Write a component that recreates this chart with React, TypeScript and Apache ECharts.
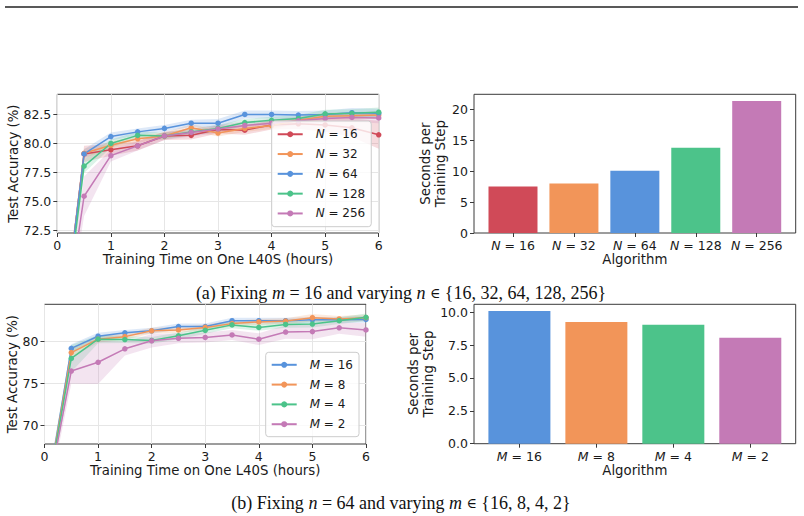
import React, { useEffect, useRef } from 'react';
import * as echarts from 'echarts';

// ---------- data ----------
const hours = [0, 0.5, 1, 1.5, 2, 2.5, 3, 3.5, 4, 4.5, 5, 5.5, 6];

// (a) fixing m = 16, varying N
const nNames = ['N = 16', 'N = 32', 'N = 64', 'N = 128', 'N = 256'];
const accN16 = [60, 79.1, 79.45, 79.8, 80.65, 80.7, 81.2, 81.15, 81.6, 81.7, 81.6, 81.35, 80.75];
const accN32 = [60, 79.15, 79.85, 80.4, 80.65, 81.35, 80.9, 81.3, 81.55, 82.0, 82.35, 82.4, 82.45];
const accN64 = [60, 79.1, 80.6, 81.0, 81.3, 81.75, 81.75, 82.5, 82.5, 82.45, 82.5, 82.65, 82.6];
const accN128 = [60, 78.05, 80.0, 80.7, 80.65, 81.0, 81.3, 81.8, 82.0, 82.15, 82.55, 82.6, 82.7];
const accN256 = [60, 75.45, 78.95, 79.8, 80.65, 80.95, 81.25, 81.55, 81.75, 81.95, 82.15, 82.25, 82.2];
const sdN16 = [1, 0.7, 0.5, 0.4, 0.35, 0.35, 0.35, 0.4, 0.4, 0.45, 0.6, 0.8, 1.2];
const sdN32 = [1, 0.4, 0.3, 0.3, 0.3, 0.3, 0.3, 0.3, 0.3, 0.3, 0.3, 0.3, 0.35];
const sdN64 = [1, 0.4, 0.35, 0.3, 0.3, 0.3, 0.35, 0.35, 0.35, 0.35, 0.35, 0.4, 0.4];
const sdN128 = [1, 0.6, 0.35, 0.3, 0.3, 0.3, 0.3, 0.3, 0.3, 0.3, 0.35, 0.35, 0.4];
const sdN256 = [1, 1.7, 0.5, 0.4, 0.35, 0.35, 0.35, 0.35, 0.35, 0.35, 0.35, 0.4, 0.45];
const secN = [7.53, 8.01, 10.1, 13.82, 21.4];

// (b) fixing n = 64, varying M
const mNames = ['M = 16', 'M = 8', 'M = 4', 'M = 2'];
const accM16 = [60, 79.15, 80.6, 81.0, 81.25, 81.75, 81.75, 82.45, 82.45, 82.45, 82.55, 82.55, 82.6];
const accM8 = [60, 78.65, 80.25, 80.55, 81.25, 81.35, 81.65, 82.1, 82.3, 82.4, 82.8, 82.65, 82.8];
const accM4 = [60, 77.95, 80.25, 80.2, 80.1, 80.65, 81.3, 81.95, 81.65, 82.0, 82.05, 82.45, 82.85];
const accM2 = [60, 76.45, 77.5, 79.1, 80.05, 80.35, 80.45, 80.75, 80.25, 81.1, 81.15, 81.6, 81.35];
const sdM16 = [1, 0.5, 0.4, 0.35, 0.35, 0.35, 0.35, 0.35, 0.35, 0.35, 0.35, 0.35, 0.4];
const sdM8 = [1, 0.6, 0.4, 0.35, 0.35, 0.35, 0.35, 0.35, 0.35, 0.35, 0.45, 0.35, 0.4];
const sdM4 = [1, 1.6, 0.5, 0.4, 0.4, 0.4, 0.4, 0.4, 0.4, 0.4, 0.4, 0.4, 0.45];
const sdM2 = [1, 1.5, 2.6, 0.8, 0.8, 0.6, 0.6, 0.6, 0.7, 0.8, 0.9, 0.7, 0.8];
const secM = [10.1, 9.26, 9.04, 8.05];

// tick values
const accTicksA = [72.5, 75, 77.5, 80, 82.5];
const accTicksB = [70, 75, 80];
const secTicksA = [0, 5, 10, 15, 20];
const secTicksB = [0, 2.5, 5, 7.5, 10];

const RED = '#D04A58';
const ORANGE = '#F29559';
const BLUE = '#5893DC';
const GREEN = '#4CC38A';
const PINK = '#C47AB6';

const FONT = 'DejaVu Sans';
const TXT = '#1a1a1a';
const FRAME = '#3a3a3a';
const GRIDC = '#e6e6e6';
const TICK_FS = 12.5;
const NAME_FS = 13.3;

function rgba(hex: string, a: number) {
  const n = parseInt(hex.slice(1), 16);
  return `rgba(${(n >> 16) & 255},${(n >> 8) & 255},${n & 255},${a})`;
}

const mathRich = (fs: number) => ({
  i: { fontFamily: FONT, fontStyle: 'italic', fontSize: fs, color: TXT },
  t: { fontFamily: FONT, fontSize: fs, color: TXT },
});
const mathFmt = (name: string) => `{i|${name[0]}}{t|${name.slice(1)}}`;

function band(grid: number, color: string, vals: number[], sd: number[]) {
  return {
    type: 'custom',
    xAxisIndex: grid,
    yAxisIndex: grid,
    clip: true,
    silent: true,
    z: 1,
    data: [0],
    renderItem: (_p: any, api: any) => {
      const up = hours.map((h, i) => api.coord([h, vals[i] + sd[i]]));
      const lo = hours.map((h, i) => api.coord([h, vals[i] - sd[i]])).reverse();
      return {
        type: 'polygon',
        shape: { points: up.concat(lo) },
        style: { fill: rgba(color, 0.2), stroke: 'none' },
      };
    },
  };
}

function line(grid: number, name: string, color: string, vals: number[]) {
  return {
    type: 'line',
    name,
    xAxisIndex: grid,
    yAxisIndex: grid,
    data: hours.map((h, i) => [h, vals[i]]),
    clip: true,
    z: 3,
    symbol: 'circle',
    symbolSize: 5.5,
    showSymbol: true,
    color,
    lineStyle: { color, width: 1.5 },
    itemStyle: { color },
  };
}

const nameStyle = { fontFamily: FONT, fontSize: NAME_FS, color: TXT };
const tickStyle = { show: true, length: 4, lineStyle: { color: FRAME } };

function lineXAxis(grid: number) {
  return {
    type: 'value',
    gridIndex: grid,
    min: 0,
    max: 6,
    interval: 1,
    name: 'Training Time on One L40S (hours)',
    nameLocation: 'middle',
    nameGap: 18,
    nameTextStyle: nameStyle,
    axisLine: { show: false, onZero: false },
    axisTick: tickStyle,
    axisLabel: { fontFamily: FONT, fontSize: TICK_FS, color: TXT, margin: 6 },
    splitLine: { show: true, lineStyle: { color: GRIDC, width: 1 } },
  };
}

function lineYAxis(grid: number, min: number, max: number, ticks: number[], dec: number, gap: number) {
  return {
    type: 'value',
    gridIndex: grid,
    min,
    max,
    name: 'Test Accuracy (%)',
    nameLocation: 'middle',
    nameRotate: 90,
    nameGap: gap,
    nameTextStyle: nameStyle,
    axisLine: { show: false, onZero: false },
    axisTick: { ...tickStyle, customValues: ticks },
    axisLabel: {
      fontFamily: FONT,
      fontSize: TICK_FS,
      color: TXT,
      margin: 6,
      customValues: ticks,
      formatter: (v: number) => v.toFixed(dec),
    },
    splitLine: { show: true, lineStyle: { color: GRIDC, width: 1 } },
  };
}

function barXAxis(grid: number, names: string[], pad: number) {
  const idx = names.map((_, i) => i);
  return {
    type: 'value',
    gridIndex: grid,
    min: -pad,
    max: names.length - 1 + pad,
    name: 'Algorithm',
    nameLocation: 'middle',
    nameGap: 18,
    nameTextStyle: nameStyle,
    axisLine: { show: false, onZero: false },
    axisTick: { ...tickStyle, customValues: idx },
    axisLabel: {
      margin: 6,
      customValues: idx,
      formatter: (v: number) => mathFmt(names[Math.round(v)] || ''),
      rich: mathRich(TICK_FS),
    },
    splitLine: { show: false },
  };
}

function barYAxis(grid: number, max: number, ticks: number[], dec: number, gap: number) {
  return {
    type: 'value',
    gridIndex: grid,
    min: 0,
    max,
    name: 'Seconds per\nTraining Step',
    nameLocation: 'middle',
    nameRotate: 90,
    nameGap: gap,
    nameTextStyle: { ...nameStyle, lineHeight: 15 },
    axisLine: { show: false, onZero: false },
    axisTick: { ...tickStyle, customValues: ticks },
    axisLabel: {
      fontFamily: FONT,
      fontSize: TICK_FS,
      color: TXT,
      margin: 6,
      customValues: ticks,
      formatter: (v: number) => v.toFixed(dec),
    },
    splitLine: { show: false },
  };
}

function bars(grid: number, vals: number[], colors: string[], width: number) {
  return {
    type: 'bar',
    xAxisIndex: grid,
    yAxisIndex: grid,
    barWidth: width,
    z: 2,
    data: vals.map((v, i) => ({ value: [i, v], itemStyle: { color: colors[i] } })),
  };
}

function legend(names: string[], left: number, top: number, pad: number) {
  return {
    data: names,
    orient: 'vertical',
    left,
    top,
    itemWidth: 25,
    itemHeight: 7.5,
    itemGap: 5.8,
    padding: [pad, 6, pad, 5],
    backgroundColor: 'rgba(255,255,255,0.8)',
    borderColor: '#cccccc',
    borderWidth: 1,
    borderRadius: 3,
    formatter: mathFmt,
    textStyle: { fontFamily: FONT, fontSize: 12, lineHeight: 14, color: TXT, padding: [0, 0, 0, 8], rich: mathRich(12) },
  };
}

const CAP_FS = 18;
const CAP_FONT = 'Liberation Serif';
const capRich = {
  r: { fontFamily: CAP_FONT, fontSize: CAP_FS, fill: '#111' },
  i: { fontFamily: CAP_FONT, fontSize: CAP_FS, fontStyle: 'italic', fill: '#111' },
  s: { fontFamily: 'DejaVu Serif', fontSize: 14, fill: '#111' },
};

function caption(text: string, y: number) {
  return {
    type: 'text',
    x: 401,
    y,
    style: {
      text,
      rich: capRich,
      fontFamily: CAP_FONT,
      fontSize: CAP_FS,
      fill: '#111',
      align: 'center',
      verticalAlign: 'middle',
    },
  };
}

export default function App() {
  const ref = useRef<HTMLDivElement>(null);
  useEffect(() => {
    if (!ref.current) return;
    const chart = echarts.init(ref.current, null, { renderer: 'svg' });
    const gridBase = { show: true, borderColor: FRAME, borderWidth: 1, backgroundColor: 'transparent' };
    const option: any = {
      animation: false,
      backgroundColor: '#ffffff',
      grid: [
        { ...gridBase, left: 57.3, top: 94.3, width: 321.4, height: 138.7 },
        { ...gridBase, left: 474, top: 94.3, width: 321.7, height: 138.7 },
        { ...gridBase, left: 44.5, top: 304.3, width: 321.5, height: 139.7 },
        { ...gridBase, left: 474, top: 304.3, width: 321.7, height: 139.4 },
      ],
      xAxis: [lineXAxis(0), barXAxis(1, nNames, 0.64), lineXAxis(2), barXAxis(3, mNames, 0.59)],
      yAxis: [
        lineYAxis(0, 72.28, 84.24, accTicksA, 1, 35.5),
        barYAxis(1, 22.47, secTicksA, 0, 22),
        lineYAxis(2, 67.77, 84.4, accTicksB, 0, 22.5),
        barYAxis(3, 10.6, secTicksB, 1, 35),
      ],
      legend: [legend(nNames, 271.7, 121, 6.25), legend(mNames, 265.7, 352.3, 5.5)],
      series: [
        band(0, RED, accN16, sdN16),
        band(0, ORANGE, accN32, sdN32),
        band(0, BLUE, accN64, sdN64),
        band(0, GREEN, accN128, sdN128),
        band(0, PINK, accN256, sdN256),
        line(0, nNames[0], RED, accN16),
        line(0, nNames[1], ORANGE, accN32),
        line(0, nNames[2], BLUE, accN64),
        line(0, nNames[3], GREEN, accN128),
        line(0, nNames[4], PINK, accN256),
        bars(1, secN, [RED, ORANGE, BLUE, GREEN, PINK], 49),
        band(2, BLUE, accM16, sdM16),
        band(2, ORANGE, accM8, sdM8),
        band(2, GREEN, accM4, sdM4),
        band(2, PINK, accM2, sdM2),
        line(2, mNames[0], BLUE, accM16),
        line(2, mNames[1], ORANGE, accM8),
        line(2, mNames[2], GREEN, accM4),
        line(2, mNames[3], PINK, accM2),
        bars(3, secM, [BLUE, ORANGE, GREEN, PINK], 62),
      ],
      graphic: [
        { type: 'line', shape: { x1: 5, y1: 7, x2: 798, y2: 7 }, style: { stroke: '#222', lineWidth: 1.3 } },
        caption('{r|(a) Fixing }{i|m}{r| = 16 and varying }{i|n}{r| }{s|∈}{r| {16, 32, 64, 128, 256}}', 293),
        caption('{r|(b) Fixing }{i|n}{r| = 64 and varying }{i|m}{r| }{s|∈}{r| {16, 8, 4, 2}}', 503),
      ],
    };
    chart.setOption(option);
    return () => chart.dispose();
  }, []);
  return <div ref={ref} style={{ position: 'fixed', left: 0, top: 0, width: 804, height: 516 }} />;
}
